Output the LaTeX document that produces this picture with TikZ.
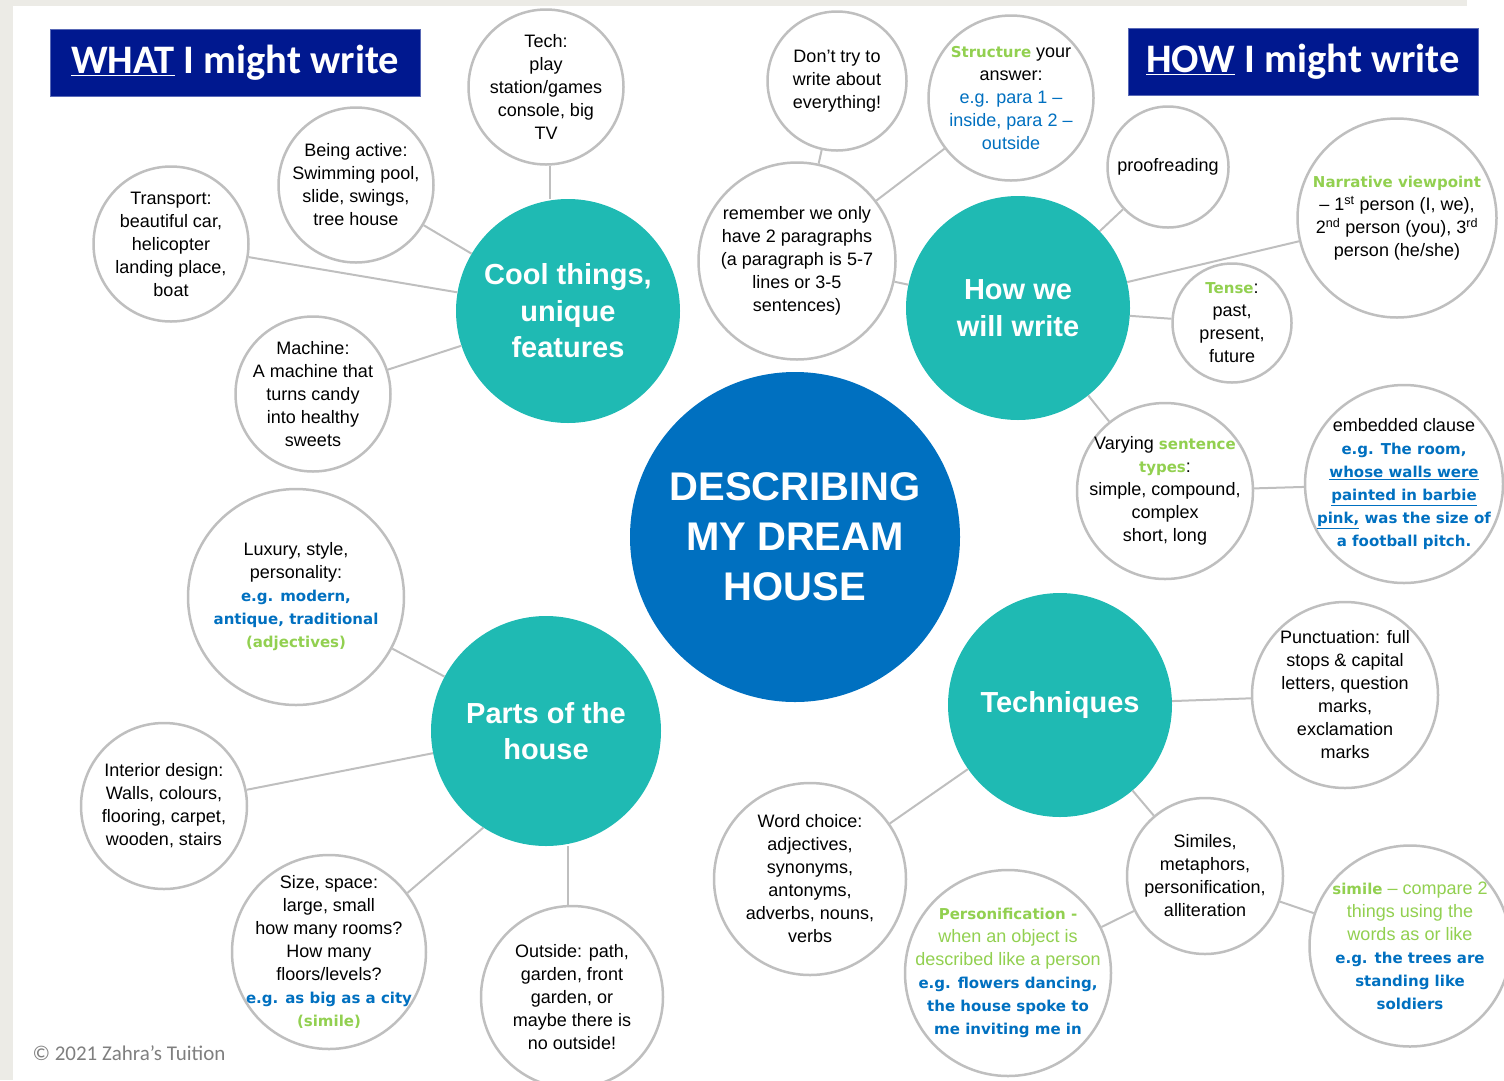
\documentclass[tikz,border=0pt]{standalone}
\usepackage{fontspec}
\setmainfont{Liberation Sans}
\newfontfamily\carlito{Carlito}
\newfontfamily\dejavu{DejaVu Sans}
\usetikzlibrary{positioning}

\definecolor{slidegray}{HTML}{ECEBE6}
\definecolor{ringgray}{HTML}{BFBFBF}
\definecolor{tealhub}{HTML}{1FBAB3}
\definecolor{coreblue}{HTML}{0070C0}
\definecolor{navybox}{HTML}{00188F}
\definecolor{leafgreen}{HTML}{92D050}
\definecolor{egblue}{HTML}{0070C0}
\definecolor{creditgray}{HTML}{7F7F7F}

% green keyword / green note / blue example (bold) / blue note
\newcommand{\gkey}[1]{{\dejavu\bfseries\fontsize{15}{23}\selectfont\color{leafgreen}#1}}
\newcommand{\gnote}[1]{\textcolor{leafgreen}{#1}}
\newcommand{\egb}[1]{{\dejavu\bfseries\fontsize{15}{23}\selectfont\color{egblue}#1}}
\newcommand{\egn}[1]{\textcolor{egblue}{#1}}

\begin{document}
\begin{tikzpicture}[x=1pt, y=-1pt]

	\tikzset{
		% negative inner sep so the text never widens the ring
		bubble/.style = {circle, draw=ringgray, line width=2.5pt, fill=white,
			inner sep=-45pt, minimum size=#1, align=center,
			font=\fontsize{18}{23}\selectfont},
		hub/.style = {circle, fill=tealhub, inner sep=-20pt, minimum size=224pt,
			align=center, text=white, font=\bfseries\fontsize{29}{36.5}\selectfont},
		titlebox/.style = {rectangle, fill=navybox, draw=navybox!65!white,
			line width=0.8pt, minimum width=#1, minimum height=67pt, text=white,
			font=\carlito\bfseries\fontsize{40.5}{48}\selectfont},
		link/.style = {draw=ringgray, line width=2pt}
	}

	\useasboundingbox (0,0) rectangle (1504,1080);
	\fill[slidegray] (0,0) rectangle (1467,6);
	\fill[slidegray] (0,0) rectangle (13,1080);

	\node[titlebox=370pt] (whatbox) at (235,63) {\underline{WHAT} I might write};
	\node[titlebox=350pt] (howbox) at (1303,61.5) {\underline{HOW} I might write};

	\node[circle, fill=coreblue, inner sep=0pt, minimum size=330pt, align=center,
		text=white, font=\bfseries\fontsize{40}{50}\selectfont]
		(core) at (795,537) {DESCRIBING\\MY DREAM\\HOUSE};

	% the four themes
	\node[hub] (cool) at (568,311) {Cool things,\\unique\\features};
	\node[hub] (how) at (1018,308) {How we\\will write};
	\node[hub, minimum size=230pt] (parts) at (546,731) {Parts of the\\house};
	\node[hub] (techniques) at (1060,705) {Techniques};

	% what: cool things
	\node[bubble=155pt] (gadgets) at (546,87) {Tech:\\play\\station/games\\console, big\\TV};
	\node[bubble=155pt] (active) at (356,185) {Being active:\\Swimming pool,\\slide, swings,\\tree house};
	\node[bubble=155pt] (transport) at (171,244) {Transport:\\beautiful car,\\helicopter\\landing place,\\boat};
	\node[bubble=155pt] (machine) at (313,394) {Machine:\\A machine that\\turns candy\\into healthy\\sweets};

	% what: parts of the house
	\node[bubble=216pt] (luxury) at (296,597) {Luxury, style,\\personality:\\\egb{e.g. modern,}\\\egb{antique, traditional}\\\gkey{(adjectives)}};
	\node[bubble=166pt] (interior) at (164,806) {Interior design:\\Walls, colours,\\flooring, carpet,\\wooden, stairs};
	\node[bubble=194pt] (size) at (329,952) {Size, space:\\large, small\\how many rooms?\\How many\\floors/levels?\\\egb{e.g. as big as a city}\\\gkey{(simile)}};
	\node[bubble=182pt] (outside) at (572,997) {Outside: path,\\garden, front\\garden, or\\maybe there is\\no outside!};

	% how: how we will write
	\node[bubble=139pt] (nottry) at (837,81) {Don’t try to\\write about\\everything!};
	\node[bubble=165pt] (structure) at (1011,98) {\gkey{Structure} your\\answer:\\\egn{e.g. para 1 –}\\\egn{inside, para 2 –}\\\egn{outside}};
	\node[bubble=197pt] (paragraphs) at (797,261) {remember we only\\have 2 paragraphs\\(a paragraph is 5-7\\lines or 3-5\\sentences)};
	\node[bubble=121pt] (proofing) at (1168,167) {proofreading};
	\node[bubble=199pt] (viewpoint) at (1397,218) {\gkey{Narrative viewpoint}\\– 1\textsuperscript{st} person (I, we),\\2\textsuperscript{nd} person (you), 3\textsuperscript{rd}\\person (he/she)};
	\node[bubble=119pt] (tense) at (1232,323) {\gkey{Tense}:\\past,\\present,\\future};
	\node[bubble=176pt] (sentences) at (1165,491) {Varying \gkey{sentence}\\\gkey{types}:\\simple, compound,\\complex\\short, long};
	\node[bubble=198pt] (embedded) at (1404,484) {embedded clause\\\egb{e.g. The room,}\\\egb{\underline{whose walls were}}\\\egb{\underline{painted in barbie}}\\\egb{\underline{pink,} was the size of}\\\egb{a football pitch.}};

	% how: techniques
	\node[bubble=186pt] (punctuation) at (1345,695) {Punctuation: full\\stops \& capital\\letters, question\\marks,\\exclamation\\marks};
	\node[bubble=192pt] (words) at (810,879) {Word choice:\\adjectives,\\synonyms,\\antonyms,\\adverbs, nouns,\\verbs};
	\node[bubble=156pt] (figurative) at (1205,876) {Similes,\\metaphors,\\personification,\\alliteration};
	\node[bubble=206pt] (personify) at (1008,973) {\gkey{Personification -}\\\gnote{when an object is}\\\gnote{described like a person}\\\egb{e.g. flowers dancing,}\\\egb{the house spoke to}\\\egb{me inviting me in}};
	\node[bubble=201pt] (simile) at (1410,946) {\gkey{simile} \gnote{– compare 2}\\\gnote{things using the}\\\gnote{words as or like}\\\egb{e.g. the trees are}\\\egb{standing like}\\\egb{soldiers}};

	\node[anchor=west, text=creditgray, font=\carlito\fontsize{21}{25}\selectfont]
		(credit) at (29,1053) {© 2021 Zahra’s Tuition};

	\path[link]
	([xshift=4pt]gadgets.south) edge ([xshift=-18pt]cool.north)
	(active) edge (cool)
	(transport) edge (cool)
	(machine) edge (cool)
	(luxury) edge (parts)
	(interior) edge (parts)
	(size.37) edge (parts.237)
	([xshift=-4pt]outside.north) edge ([xshift=22pt]parts.south)

	(nottry) edge (paragraphs)
	(structure) edge (paragraphs)
	(paragraphs) edge (how)
	(proofing) edge (how)
	(viewpoint) edge (how)
	(tense) edge (how)
	(how) edge (sentences)
	(sentences) edge (embedded)

	(techniques) edge (punctuation)
	(techniques) edge (words)
	(techniques) edge (figurative)
	(figurative) edge (personify)
	(figurative) edge (simile)
	;

\end{tikzpicture}
\end{document}
